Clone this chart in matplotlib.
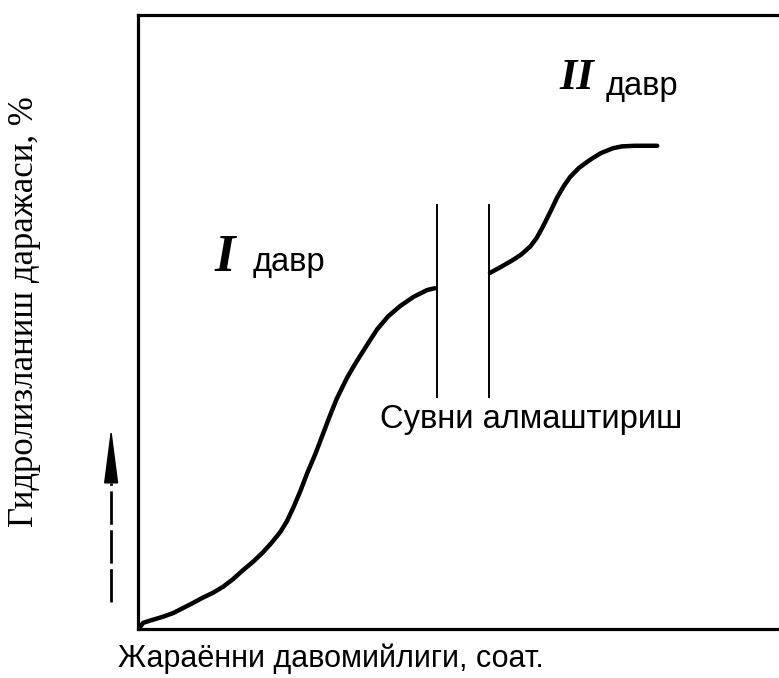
import matplotlib
matplotlib.use("Agg")
import matplotlib.pyplot as plt

# Stage I hydrolysis curve (time, degree %)
time_1 = [0.03, 0.08, 0.20, 0.39, 0.55, 0.70, 0.85, 1.01, 1.17, 1.33, 1.48,
          1.64, 1.80, 1.95, 2.08, 2.22, 2.32, 2.42, 2.53, 2.64, 2.77, 2.89,
          3.00, 3.10, 3.18, 3.26, 3.36, 3.46, 3.60, 3.73, 3.90, 4.09, 4.30,
          4.51, 4.63]
degree_1 = [0.3, 1.0, 1.4, 2.0, 2.6, 3.4, 4.2, 5.1, 5.9, 6.9, 8.1,
            9.6, 11.0, 12.5, 14.0, 15.8, 17.5, 19.7, 22.4, 25.4, 28.6, 31.9,
            34.9, 37.5, 39.2, 40.9, 42.7, 44.4, 46.7, 48.8, 50.9, 52.6, 54.1,
            55.2, 55.5]

# Stage II after the water change
time_2 = [5.49, 5.65, 5.85, 5.98, 6.12, 6.22, 6.32, 6.43, 6.54, 6.64, 6.74,
          6.88, 7.05, 7.22, 7.41, 7.55, 7.75, 8.10]
degree_2 = [58.0, 58.9, 60.1, 61.0, 62.3, 63.7, 65.6, 67.9, 70.3, 72.1, 73.6,
            75.1, 76.4, 77.5, 78.3, 78.6, 78.7, 78.7]

# water change markers
change_x = [4.66, 5.48]
change_y = [37.8, 69.1]

fig = plt.figure(figsize=(7.79, 6.78), dpi=100)
ax = fig.add_axes([0.1772, 0.0723, 0.8228, 0.9056])
ax.set_xlim(0, 10)
ax.set_ylim(0, 100)
ax.set_xticks([])
ax.set_yticks([])
ax.spines["right"].set_visible(False)
for side in ["left", "top", "bottom"]:
    ax.spines[side].set_linewidth(2.3)

ax.plot(time_1, degree_1, color="black", lw=3.2, solid_capstyle="round",
        solid_joinstyle="round")
ax.plot(time_2, degree_2, color="black", lw=3.2, solid_capstyle="round",
        solid_joinstyle="round")
for x in change_x:
    ax.plot([x, x], change_y, color="black", lw=1.4)

sans = "Liberation Sans"
serif = "Liberation Serif"

ax.text(1.36, 60.4, "I", family=serif, style="italic", weight="bold",
        fontsize=38, ha="center", va="center")
ax.text(1.78, 58.3, "давр", family=sans, fontsize=23.5, va="baseline")
ax.text(6.85, 89.7, "II", family=serif, style="italic", weight="bold",
        fontsize=32, ha="center", va="center")
ax.text(7.29, 87.0, "давр", family=sans, fontsize=23.5, va="baseline")
ax.text(3.78, 32.7, "Сувни алмаштириш", family=sans, fontsize=23.5,
        va="baseline")

# dashed arrow left of the y axis
arrow_x = -0.42
ax.plot([arrow_x, arrow_x], [4.4, 23.8], color="black", lw=2,
        linestyle=(0, (12, 2)), clip_on=False)
ax.fill([arrow_x - 0.1, arrow_x + 0.1, arrow_x], [23.8, 23.8, 31.9],
        color="black", clip_on=False)

fig.text(0.1515, 0.0162, "Жараённи давомийлиги, соат.", family=sans,
         fontsize=22, va="baseline")
fig.text(0.032, 0.541, "Гидролизланиш даражаси, %", family=serif,
         fontsize=25, rotation=90, ha="center", va="center")

fig.savefig("out.png", dpi=100)
